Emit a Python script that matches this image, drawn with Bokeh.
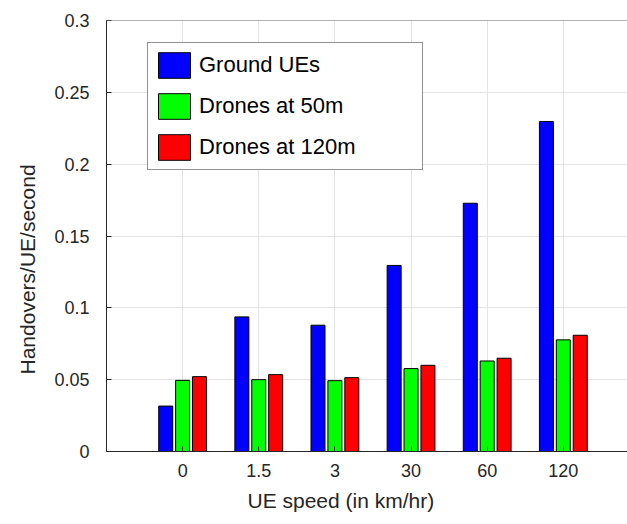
import numpy as np
from bokeh.plotting import figure
from bokeh.models import (ColumnDataSource, FixedTicker, Legend, LegendItem,
                          Range1d, Span, Title)
from bokeh.transform import dodge
from bokeh.embed import file_html
from bokeh.resources import INLINE

# ---- data ----
speeds = ["0", "1.5", "3", "30", "60", "120"]
ground_ues = [0.0316, 0.0937, 0.0879, 0.1295, 0.1728, 0.2297]
drones_50m = [0.0495, 0.0500, 0.0493, 0.0577, 0.0630, 0.0777]
drones_120m = [0.0521, 0.0535, 0.0514, 0.0600, 0.0649, 0.0809]
y_ticks = [0, 0.05, 0.1, 0.15, 0.2, 0.25, 0.3]
y_tick_labels = ["0", "0.05", "0.1", "0.15", "0.2", "0.25", "0.3"]
x_title = "UE speed (in km/hr)"
y_title = "Handovers/UE/second"

pos = list(np.arange(1, len(speeds) + 1).astype(float))
src = ColumnDataSource(dict(x=pos, g=ground_ues, d50=drones_50m, d120=drones_120m))

FONT = "Liberation Sans"
AX = "#262626"

p = figure(width=627, height=524, output_backend="svg", toolbar_location=None,
           x_range=Range1d(0, 6.843), y_range=Range1d(y_ticks[0], y_ticks[-1]),
           min_border_left=106, min_border_right=0, min_border_top=20,
           min_border_bottom=73, outline_line_color=None,
           background_fill_color="white", border_fill_color="white")

bw = 0.184
off = 0.222
r1 = p.vbar(x=dodge("x", -off), top="g", width=bw, source=src,
            fill_color="#0000FF", line_color="black", line_width=1)
r2 = p.vbar(x=dodge("x", 0.0), top="d50", width=bw, source=src,
            fill_color="#00FF00", line_color="black", line_width=1)
r3 = p.vbar(x=dodge("x", off), top="d120", width=bw, source=src,
            fill_color="#FF0000", line_color="black", line_width=1)

# axes
xa = p.xaxis[0]
xa.ticker = FixedTicker(ticks=pos)
xa.major_label_overrides = {float(k): v for k, v in zip(pos, speeds)}
ya = p.yaxis[0]
ya.ticker = FixedTicker(ticks=y_ticks)
ya.major_label_overrides = {float(k): v for k, v in zip(y_ticks, y_tick_labels)}

for ax in (xa, ya):
    ax.axis_line_color = AX
    ax.axis_line_width = 1
    ax.major_tick_line_color = AX
    ax.major_tick_in = 5
    ax.major_tick_out = 0
    ax.minor_tick_line_color = None
    ax.major_label_text_font = FONT
    ax.major_label_text_font_size = "18px"
    ax.major_label_text_color = AX
xa.major_label_standoff = 12
ya.major_label_standoff = 17

# top border of the box
p.add_layout(Span(location=y_ticks[-1], dimension="width",
                  line_color="#666666", line_width=1))

p.xgrid.ticker = FixedTicker(ticks=pos)
p.ygrid.ticker = FixedTicker(ticks=y_ticks)
for g in (p.xgrid[0], p.ygrid[0]):
    g.grid_line_color = "#e3e3e3"
    g.grid_line_width = 1

# axis titles (placed like in the reference, off-centre)
p.add_layout(Title(text=x_title, align="left", offset=141, standoff=18,
                   vertical_align="top",
                   text_font=FONT, text_font_size="21px",
                   text_font_style="normal", text_color=AX), "below")
p.add_layout(Title(text=y_title, align="left", offset=77, standoff=25,
                   vertical_align="bottom",
                   text_font=FONT, text_font_size="21px",
                   text_font_style="normal", text_color=AX), "left")

legend = Legend(items=[LegendItem(label="Ground UEs", renderers=[r1]),
                       LegendItem(label="Drones at 50m", renderers=[r2]),
                       LegendItem(label="Drones at 120m", renderers=[r3])],
                location=(41, 281), margin=0, padding=6, spacing=9,
                glyph_width=40, glyph_height=32, label_standoff=5,
                label_width=217, label_height=32,
                label_text_font=FONT, label_text_font_size="22px",
                label_text_color="black", border_line_color=AX,
                border_line_width=1, background_fill_color="white",
                background_fill_alpha=1.0)
p.add_layout(legend, "center")

open("out.html", "w").write(file_html(p, INLINE))
